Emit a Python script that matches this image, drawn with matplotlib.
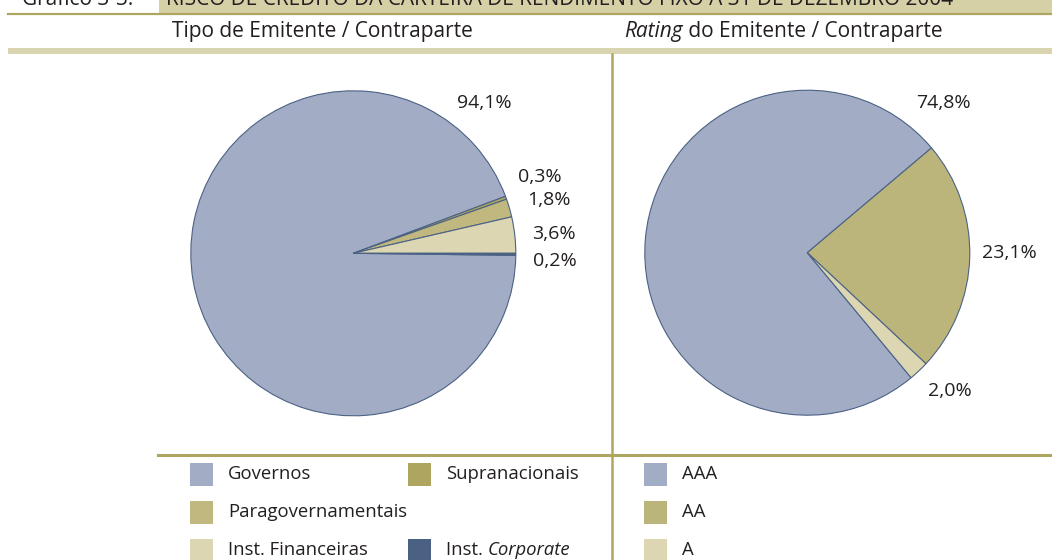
import matplotlib
matplotlib.use("Agg")
import matplotlib.pyplot as plt
from matplotlib.patches import Rectangle

plt.rcParams['font.family'] = ['Open Sans', 'DejaVu Sans']

# dados
tipos = ["Governos", "Supranacionais", "Paragovernamentais", "Inst. Financeiras", "Inst. Corporate"]
tipos_val = [94.1, 0.3, 1.8, 3.6, 0.2]
ratings = ["AAA", "AA", "A"]
ratings_val = [74.8, 23.1, 2.0]

titulo = "Gráfico 3-3:"
titulo2 = "RISCO DE CRÉDITO DA CARTEIRA DE RENDIMENTO FIXO A 31 DE DEZEMBRO 2004"

cores_tipo = ["#a2acc4", "#aea561", "#c0b87e", "#dcd7b2", "#4a6183"]
cores_rating = ["#a2acc4", "#bcb57b", "#dcd7b2"]
borda = "#4b6285"
txt = "#231f20"
khaki = "#aea660"

W, H = 1052, 560
fig = plt.figure(figsize=(W / 100, H / 100), dpi=100)

# fundo em coordenadas de pixel
bg = fig.add_axes([0, 0, 1, 1])
bg.set_xlim(0, W)
bg.set_ylim(H, 0)
bg.axis("off")

bg.add_patch(Rectangle((159, 0), W - 159, 12.5, color="#d6d0a7", lw=0))
bg.plot([8, W], [13.5, 13.5], color=khaki, lw=1.6)
bg.add_patch(Rectangle((8, 48), W - 8, 6, color="#d9d4b0", lw=0))
bg.plot([612, 612], [54, H], color=khaki, lw=1.8)
bg.plot([158, W], [455, 455], color=khaki, lw=2.2)

# titulo cortado no topo, como no original
bg.text(22, 5, titulo, fontsize=15, color=txt, va="baseline", ha="left")
bg.text(166, 5, titulo2, fontsize=15, color=txt, va="baseline", ha="left")

bg.text(322, 32, "Tipo de Emitente / Contraparte", fontsize=15, color=txt,
        ha="center", va="center")

fig.canvas.draw()
r = fig.canvas.get_renderer()


def texto_misto(x, y, partes, fs=13.3):
    # escreve pedaços seguidos, alguns em itálico
    for s, estilo in partes:
        t = bg.text(x, y, s, fontsize=fs, color=txt, va="center", ha="left", style=estilo)
        bb = t.get_window_extent(renderer=r)
        x += bb.width


texto_misto(624, 32, [("Rating", "italic"), (" do Emitente / Contraparte", "normal")], fs=15)


def fmt(v):
    return f"{v:.1f}".replace(".", ",") + "%"


R = 162.5
half = 200


def pie_ax(cx, cy):
    ax = fig.add_axes([(cx - half) / W, (H - cy - half) / H, 2 * half / W, 2 * half / H])
    ax.set_xlim(-half / R, half / R)
    ax.set_ylim(-half / R, half / R)
    ax.axis("off")
    return ax


ax1 = pie_ax(353.3, 253.3)
ax1.pie(tipos_val, colors=cores_tipo, startangle=-0.72, counterclock=False,
        wedgeprops=dict(edgecolor=borda, linewidth=0.8))
ax1.set_xlim(-half / R, half / R)
ax1.set_ylim(-half / R, half / R)
pos1 = [(0.806, 0.927), (1.149, 0.471), (1.203, 0.328), (1.233, 0.117), (1.241, -0.047)]
for v, (x, y) in zip(tipos_val, pos1):
    ax1.text(x, y, fmt(v), fontsize=14, color=txt, ha="center", va="center")

ax2 = pie_ax(807.3, 252.7)
ax2.pie(ratings_val, colors=cores_rating, startangle=309.7, counterclock=False,
        wedgeprops=dict(edgecolor=borda, linewidth=0.8))
ax2.set_xlim(-half / R, half / R)
ax2.set_ylim(-half / R, half / R)
pos2 = [(0.837, 0.923), (1.241, 0.0), (0.878, -0.851)]
for v, (x, y) in zip(ratings_val, pos2):
    ax2.text(x, y, fmt(v), fontsize=14, color=txt, ha="center", va="center")

# legendas
leg1 = [(190, 474), (408, 474), (190, 512), (190, 550), (408, 550)]
for nome, c, (x, y) in zip(tipos, cores_tipo, leg1):
    bg.add_patch(Rectangle((x, y - 11.5), 23, 23, color=c, lw=0))
    if nome == "Inst. Corporate":
        texto_misto(x + 38, y, [("Inst. ", "normal"), ("Corporate", "italic")])
    else:
        bg.text(x + 38, y, nome, fontsize=13.3, color=txt, va="center", ha="left")

leg2 = [(644, 474), (644, 512), (644, 550)]
for nome, c, (x, y) in zip(ratings, cores_rating, leg2):
    bg.add_patch(Rectangle((x, y - 11.5), 23, 23, color=c, lw=0))
    bg.text(x + 38, y, nome, fontsize=13.3, color=txt, va="center", ha="left")

fig.savefig("out.png", dpi=100)
